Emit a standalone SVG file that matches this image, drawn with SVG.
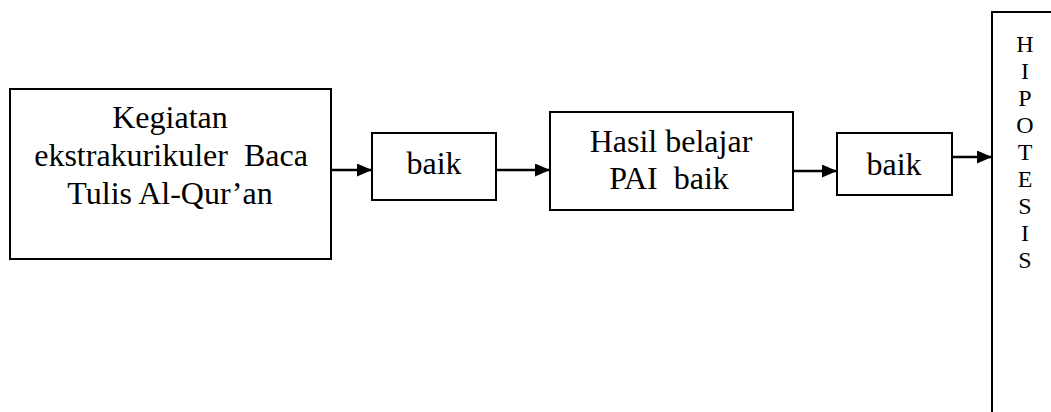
<svg xmlns="http://www.w3.org/2000/svg" width="1051" height="412" viewBox="0 0 1051 412">
<style>
.box{fill:#fff;stroke:#000;stroke-width:2}
.t{font-family:"Liberation Serif","Times New Roman",serif;font-size:32px;fill:#000;text-anchor:middle}
.v{font-family:"Liberation Serif","Times New Roman",serif;font-size:24px;fill:#000;text-anchor:middle}
.c{stroke:#000;stroke-width:2.5;fill:none;marker-end:url(#ah)}
</style>
<defs>
<marker id="ah" viewBox="0 0 15 13" refX="15" refY="6.5" markerWidth="15" markerHeight="13" markerUnits="userSpaceOnUse" orient="auto">
<path d="M0,0 L15,6.5 L0,13 Z" fill="#000"/>
</marker>
</defs>
<rect width="1051" height="412" fill="#fff"/>
<g id="connectors">
<line class="c" x1="331" y1="170" x2="372" y2="170"/>
<line class="c" x1="496" y1="170" x2="550" y2="170"/>
<line class="c" x1="793" y1="171" x2="837" y2="171"/>
<line class="c" x1="952" y1="157" x2="992" y2="157"/>
</g>
<g id="kegiatan">
<rect class="box" x="10" y="89" width="321" height="170"/>
<text class="t" x="170" y="128">Kegiatan</text>
<text class="t" x="171" y="166" xml:space="preserve">ekstrakurikuler  Baca</text>
<text class="t" x="170" y="204">Tulis Al-Qur’an</text>
</g>
<g id="baik1">
<rect class="box" x="372" y="133" width="124" height="67"/>
<text class="t" x="434" y="174">baik</text>
</g>
<g id="hasil">
<rect class="box" x="550" y="112" width="243" height="98"/>
<text class="t" x="671" y="152">Hasil belajar</text>
<text class="t" x="669" y="189" xml:space="preserve">PAI  baik</text>
</g>
<g id="baik2">
<rect class="box" x="837" y="133" width="115" height="62"/>
<text class="t" x="894" y="175">baik</text>
</g>
<g id="hipotesis">
<path d="M1060,12 L992,12 L992,420" fill="none" stroke="#000" stroke-width="2"/>
<text class="v" x="1025" y="52">H</text>
<text class="v" x="1025" y="79">I</text>
<text class="v" x="1025" y="106">P</text>
<text class="v" x="1025" y="133">O</text>
<text class="v" x="1025" y="160">T</text>
<text class="v" x="1025" y="187">E</text>
<text class="v" x="1025" y="214">S</text>
<text class="v" x="1025" y="241">I</text>
<text class="v" x="1025" y="268">S</text>
</g>
</svg>
